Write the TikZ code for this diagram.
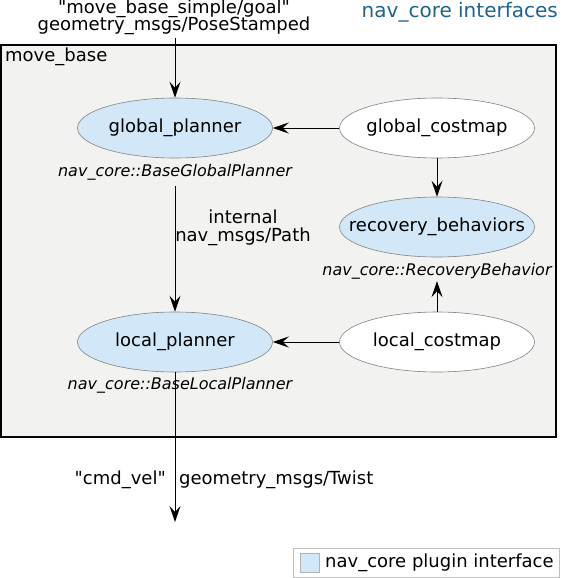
\documentclass[tikz,border=0pt]{standalone}
\usepackage{fontspec}
\setmainfont{DejaVu Sans}
\usetikzlibrary{arrows.meta,shapes.geometric}
\definecolor{plugin}{RGB}{210,232,248}
\definecolor{boxbg}{RGB}{242,242,240}
\definecolor{titleblue}{RGB}{30,100,140}
\definecolor{ellborder}{RGB}{130,130,130}
\tikzset{
  txt/.style={font=\fontsize{18}{20}\selectfont, inner sep=0pt},
  itl/.style={font=\fontsize{16}{18}\selectfont\itshape, inner sep=0pt},
  ell/.style={ellipse, draw=ellborder, line width=0.6pt, minimum width=195pt, minimum height=60pt, font=\fontsize{18}{20}\selectfont, inner xsep=-25pt, inner ysep=0pt},
  plug/.style={ell, fill=plugin},
  plain/.style={ell, fill=white},
  arr/.style={-{Stealth[length=16pt,width=11pt,inset=6pt]}, line width=1pt}
}
\begin{document}
\begin{tikzpicture}[x=1pt,y=-1pt]
\useasboundingbox (0,0) rectangle (570,578);
% main box
\draw[fill=boxbg, line width=1.8pt] (1,45) rectangle (556,437);
\node[txt, anchor=west] (mb) at (5,57) {move\_base};
% title
\node[txt, font=\fontsize{20}{22}\selectfont, text=titleblue, anchor=east] (title) at (558,12) {nav\_core interfaces};
% top labels
\node[txt] (goal1) at (174,9) {\textquotedbl move\_base\_simple/goal\textquotedbl};
\node[txt] (goal2) at (174,26) {geometry\_msgs/PoseStamped};
\coordinate (goaltop) at (175,38);
% ellipses
\node[plug] (gp) at (175,128) {global\_planner};
\node[plain] (gc) at (437,128) {global\_costmap};
\node[plug] (rb) at (437,227) {recovery\_behaviors};
\node[plug] (lp) at (175,342) {local\_planner};
\node[plain] (lc) at (437,342) {local\_costmap};
% italic labels
\node[itl] (gpl) at (175,172) {nav\_core::BaseGlobalPlanner};
\node[itl] (rbl) at (437,271) {nav\_core::RecoveryBehavior};
\node[itl] (lpl) at (180,385) {nav\_core::BaseLocalPlanner};
% arrows
\draw[arr] (goaltop) -- (gp.north);
\draw[arr] (gc.west) -- (gp.east);
\draw[arr] (gc.south) -- (rb.north);
\draw[arr] (lc.north) -- ([yshift=-2pt]rbl.south);
\draw[arr] (lc.west) -- (lp.east);
\coordinate (gpstart) at (175,186);
\draw[arr] (gpstart) -- (lp.north);
\node[txt] (int1) at (243,217) {internal};
\node[txt] (int2) at (243,237) {nav\_msgs/Path};
\coordinate (cmdend) at (175,522);
\draw[arr] (lp.south) -- (cmdend);
\node[txt, anchor=east] (cmd) at (166,480) {\textquotedbl cmd\_vel\textquotedbl};
\node[txt, anchor=west] (twist) at (179,480) {geometry\_msgs/Twist};
% legend
\draw[draw=black!25, fill=white, line width=0.6pt] (293,548) rectangle (559,577);
\node[draw=black!30, fill=plugin, minimum width=19pt, minimum height=19pt, inner sep=0pt] (legsq) at (310,562.5) {};
\node[txt, anchor=west] (legtxt) at (325,563) {nav\_core plugin interface};
\end{tikzpicture}
\end{document}
